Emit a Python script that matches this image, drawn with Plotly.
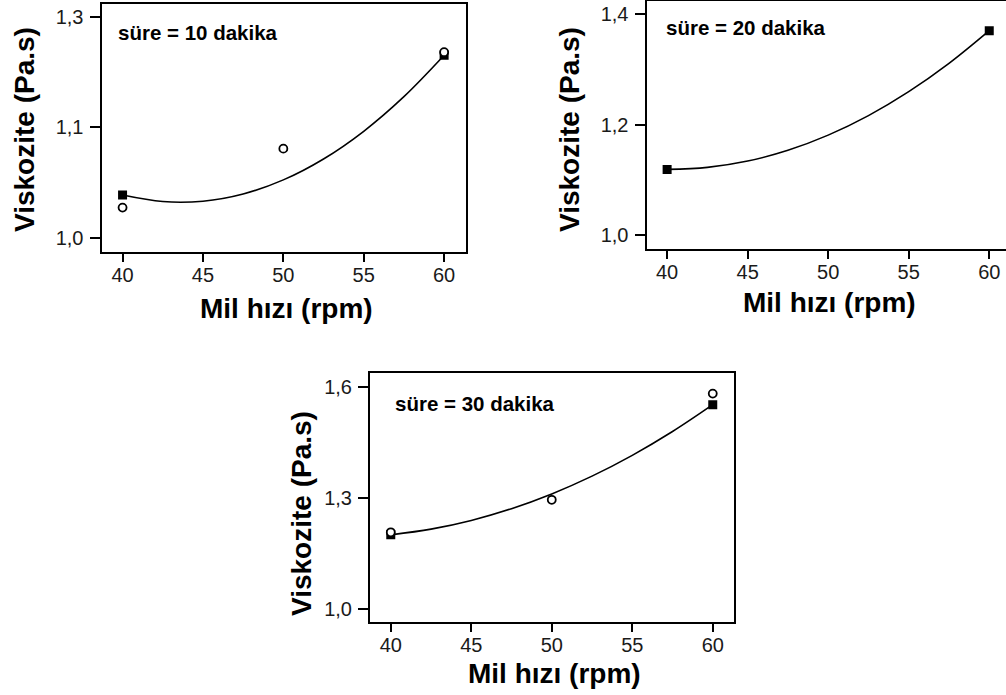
import plotly.graph_objects as go

W, H = 1006, 695

# ---------------- data ----------------
speed_ticks = [40, 45, 50, 55, 60]
curve_x = [40, 42.5, 45, 47.5, 50, 52.5, 55, 57.5, 60]

# panel 1: süre = 10 dakika
p1_curve_y = [1.058, 1.0492, 1.0497, 1.0595, 1.0786, 1.1070, 1.1446, 1.1915, 1.2477]
p1_sq_x = [40, 60]
p1_sq_y = [1.058, 1.2477]
p1_circ_x = [40, 50, 60]
p1_circ_y = [1.041, 1.121, 1.252]
p1_ytickvals = [1.0, 1.15, 1.3]
p1_yticktext = ["1,0", "1,1", "1,3"]

# panel 2: süre = 20 dakika
p2_curve_y = [1.119, 1.1226, 1.1341, 1.1536, 1.181, 1.2163, 1.2596, 1.3108, 1.370]
p2_sq_x = [40, 60]
p2_sq_y = [1.119, 1.370]
p2_ytickvals = [1.0, 1.2, 1.4]
p2_yticktext = ["1,0", "1,2", "1,4"]

# panel 3: süre = 30 dakika
p3_curve_y = [1.200, 1.2155, 1.2391, 1.271, 1.311, 1.3592, 1.4156, 1.4802, 1.553]
p3_sq_x = [40, 60]
p3_sq_y = [1.200, 1.553]
p3_circ_x = [40, 50, 60]
p3_circ_y = [1.207, 1.295, 1.583]
p3_ytickvals = [1.0, 1.3, 1.6]
p3_yticktext = ["1,0", "1,3", "1,6"]

panel_labels = ["süre = 10 dakika", "süre = 20 dakika", "süre = 30 dakika"]
x_title = "Mil hızı (rpm)"
y_title = "Viskozite (Pa.s)"

FONT = "Liberation Sans, Arial, sans-serif"


def px(x):
    return x / W


def py(y):
    return 1 - y / H


fig = go.Figure()

panels = [
    dict(curve=p1_curve_y, sqx=p1_sq_x, sqy=p1_sq_y, cx=p1_circ_x, cy=p1_circ_y,
         tv=p1_ytickvals, tt=p1_yticktext,
         xdom=[px(101.5), px(465.5)], ydom=[py(251.5), py(3.5)],
         xr=[38.69, 61.33], yr=[0.9814, 1.318], mirror=True,
         label_xy=(116, 33), xt=(286, 308), yt=(25, 130)),
    dict(curve=p2_curve_y, sqx=p2_sq_x, sqy=p2_sq_y, cx=[], cy=[],
         tv=p2_ytickvals, tt=p2_yticktext,
         xdom=[px(646.5), 1.0], ydom=[py(249), py(0.8)],
         xr=[38.72, 61.04], yr=[0.975, 1.424], mirror=False,
         label_xy=(664, 27), xt=(829, 302), yt=(570, 130)),
    dict(curve=p3_curve_y, sqx=p3_sq_x, sqy=p3_sq_y, cx=p3_circ_x, cy=p3_circ_y,
         tv=p3_ytickvals, tt=p3_yticktext,
         xdom=[px(370), px(734)], ydom=[py(622.3), py(373.3)],
         xr=[38.71, 61.32], yr=[0.963, 1.638], mirror=True,
         label_xy=(393, 403), xt=(554, 673), yt=(301, 514)),
]

annotations = []
for i, p in enumerate(panels, start=1):
    xa = "x" if i == 1 else f"x{i}"
    ya = "y" if i == 1 else f"y{i}"
    fig.add_trace(go.Scatter(x=curve_x, y=p["curve"], mode="lines",
                             line=dict(color="black", width=1.6, shape="spline"),
                             xaxis=xa, yaxis=ya, showlegend=False, hoverinfo="skip"))
    fig.add_trace(go.Scatter(x=p["sqx"], y=p["sqy"], mode="markers",
                             marker=dict(symbol="square", size=9, color="black"),
                             xaxis=xa, yaxis=ya, showlegend=False))
    if p["cx"]:
        fig.add_trace(go.Scatter(x=p["cx"], y=p["cy"], mode="markers",
                                 marker=dict(symbol="circle", size=8, color="white",
                                             line=dict(color="black", width=1.8)),
                                 xaxis=xa, yaxis=ya, showlegend=False))
    xkey = "xaxis" if i == 1 else f"xaxis{i}"
    ykey = "yaxis" if i == 1 else f"yaxis{i}"
    fig.update_layout(**{
        xkey: dict(domain=p["xdom"], range=p["xr"], anchor=ya,
                   tickvals=speed_ticks, ticktext=[str(v) for v in speed_ticks],
                   ticks="outside", ticklen=8, tickwidth=1.5, tickcolor="black",
                   ticklabelstandoff=-4,
                   showline=True, linewidth=2, linecolor="black", mirror=True,
                   showgrid=False, zeroline=False,
                   tickfont=dict(family=FONT, size=20, color="#1a1a1a")),
        ykey: dict(domain=p["ydom"], range=p["yr"], anchor=xa,
                   tickvals=p["tv"], ticktext=p["tt"],
                   ticks="outside", ticklen=10, tickwidth=1.5, tickcolor="black",
                   ticklabelstandoff=2,
                   showline=True, linewidth=2, linecolor="black", mirror=p["mirror"],
                   showgrid=False, zeroline=False,
                   tickfont=dict(family=FONT, size=20, color="#1a1a1a")),
    })
    lx, ly = p["label_xy"]
    annotations.append(dict(x=px(lx), y=py(ly), xref="paper", yref="paper",
                            xanchor="left", yanchor="middle", showarrow=False,
                            text=f"<b>{panel_labels[i-1]}</b>",
                            font=dict(family=FONT, size=20.5, color="black")))
    tx, ty = p["xt"]
    annotations.append(dict(x=px(tx), y=py(ty), xref="paper", yref="paper",
                            xanchor="center", yanchor="middle", showarrow=False,
                            text=f"<b>{x_title}</b>",
                            font=dict(family=FONT, size=28, color="black")))
    yx, yy = p["yt"]
    annotations.append(dict(x=px(yx), y=py(yy), xref="paper", yref="paper",
                            xanchor="center", yanchor="middle", showarrow=False,
                            textangle=-90, text=f"<b>{y_title}</b>",
                            font=dict(family=FONT, size=28, color="black")))

fig.update_layout(width=W, height=H, margin=dict(l=0, r=0, t=0, b=0),
                  paper_bgcolor="white", plot_bgcolor="white",
                  showlegend=False, annotations=annotations)

fig.write_html("out.html")
